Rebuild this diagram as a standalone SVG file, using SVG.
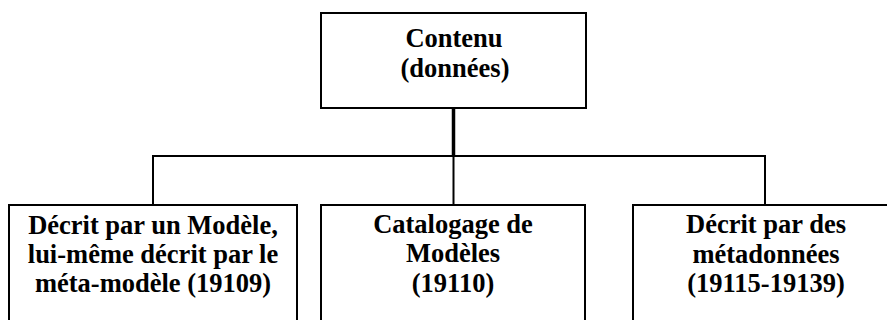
<svg xmlns="http://www.w3.org/2000/svg" width="887" height="320" viewBox="0 0 887 320">
<style>
.box{fill:#fff;stroke:#000;stroke-width:2}
.t{font-family:'Liberation Serif','Times New Roman',serif;font-weight:700;font-size:26.5px;text-anchor:middle;fill:#000}
.c{stroke:#000;stroke-width:2;fill:none}
</style>
<rect width="887" height="320" fill="#fff"/>
<g id="connectors">
<line class="c" x1="453.5" y1="108" x2="453.5" y2="156" style="stroke-width:3.5"/>
<polyline class="c" points="153,205 153,156 765,156 765,205"/>
<line class="c" x1="453.5" y1="156" x2="453.5" y2="205"/>
</g>
<g id="n0">
<rect class="box" x="321" y="13" width="265" height="95"/>
<text class="t" x="454" y="47">Contenu</text>
<text class="t" x="455" y="77">(données)</text>
</g>
<g id="n1">
<rect class="box" x="9" y="205" width="288" height="130"/>
<text class="t" x="153" y="234">Décrit par un Modèle,</text>
<text class="t" x="153" y="263">lui-même décrit par le</text>
<text class="t" x="153" y="292">méta-modèle (19109)</text>
</g>
<g id="n2">
<rect class="box" x="321" y="205" width="264" height="130"/>
<text class="t" x="453" y="233">Catalogage de</text>
<text class="t" x="453" y="262">Modèles</text>
<text class="t" x="453" y="292">(19110)</text>
</g>
<g id="n3">
<rect class="box" x="633" y="205" width="270" height="130"/>
<text class="t" x="766" y="233">Décrit par des</text>
<text class="t" x="766" y="263">métadonnées</text>
<text class="t" x="766" y="292">(19115-19139)</text>
</g>
</svg>
